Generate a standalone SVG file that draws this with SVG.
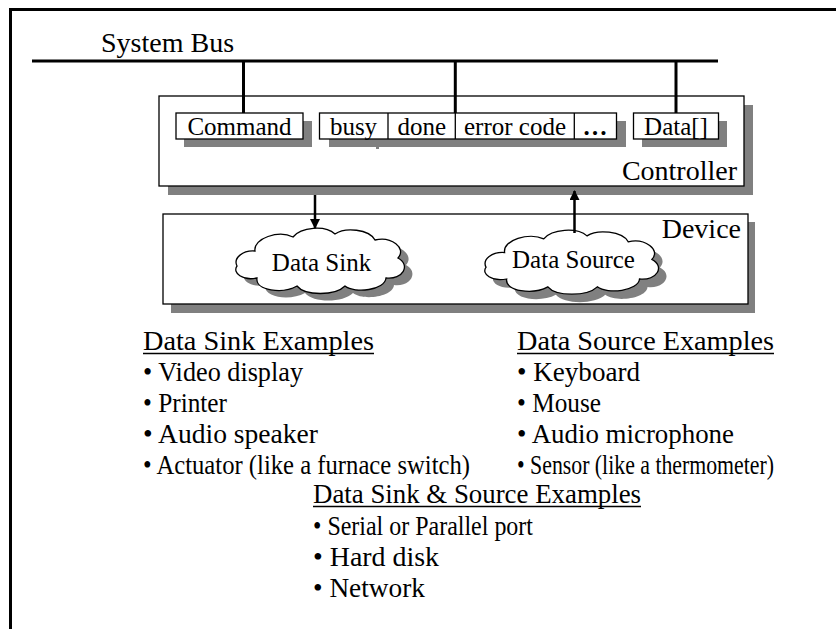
<svg xmlns="http://www.w3.org/2000/svg" width="836" height="629" viewBox="0 0 836 629">
  <defs>
    <style>
      text { font-family: "Liberation Serif", "Times New Roman", serif; fill: #000; }
      .box { fill: #fff; stroke: #000; stroke-width: 1.3; }
      .shadow { fill: #808080; stroke: none; }
      .reg { font-size: 25px; text-anchor: middle; }
      .label { font-size: 28px; }
      .item { font-size: 27px; }
      .cloudtxt { font-size: 25px; text-anchor: middle; }
      .wire { stroke: #000; stroke-width: 3; fill: none; }
      .arrow { stroke: #000; stroke-width: 2.5; fill: none; marker-end: url(#head); }
      .uline { stroke: #000; stroke-width: 1.3; }
    </style>
    <marker id="head" viewBox="0 0 10 10" refX="9" refY="5" markerWidth="4" markerHeight="4" markerUnits="strokeWidth" orient="auto">
      <path d="M0,0 L10,5 L0,10 Z" fill="#000"/>
    </marker>
    <!-- cloud outline in a 172 x 63 local box -->
    <path id="cloud" d="M2,38 C-2,30 8,22 20,23 C18,10 44,2 58,9 C66,-1 90,-3 100,6 C110,-1 134,1 140,12 C156,8 172,20 163,30 C176,37 168,52 151,50 C150,62 120,66 110,58 C100,68 70,68 62,58 C48,66 20,63 22,50 C8,53 -3,45 2,38 Z"/>
  </defs>

  <rect width="836" height="629" fill="#fff"/>

  <!-- page frame (left and top edges) -->
  <path d="M10.5,629 V9.5 H836" fill="none" stroke="#000" stroke-width="3"/>

  <!-- system bus -->
  <g id="bus">
    <text class="label" x="101" y="52">System Bus</text>
    <line class="wire" x1="32" y1="61" x2="718" y2="61"/>
  </g>

  <!-- controller with its registers -->
  <g id="controller">
    <rect class="shadow" x="168" y="105" width="585" height="90"/>
    <rect class="box" x="159" y="96" width="585" height="90"/>
    <text class="label" x="737" y="180" text-anchor="end">Controller</text>
  </g>

  <g id="reg-command">
    <rect class="shadow" x="184" y="121" width="128" height="26"/>
    <rect class="box" x="176" y="113" width="127" height="26"/>
    <text class="reg" x="239.5" y="135">Command</text>
  </g>

  <g id="reg-status">
    <rect class="shadow" x="329" y="121" width="297" height="26"/>
    <rect class="shadow" x="376" y="146" width="3" height="3"/>
    <rect class="box" x="319.5" y="113" width="297" height="26"/>
    <line class="uline" x1="388" y1="113" x2="388" y2="139"/>
    <line class="uline" x1="455.3" y1="113" x2="455.3" y2="139"/>
    <line class="uline" x1="574.3" y1="113" x2="574.3" y2="139"/>
    <text class="reg" x="353.5" y="135">busy</text>
    <text class="reg" x="421.7" y="135">done</text>
    <text class="reg" x="515" y="135">error code</text>
    <text class="reg" x="595" y="135" font-weight="bold">…</text>
  </g>

  <g id="reg-data">
    <rect class="shadow" x="642" y="121" width="85" height="26"/>
    <rect class="box" x="633.5" y="113" width="85" height="26"/>
    <text class="reg" x="676" y="135">Data[]</text>
  </g>

  <!-- device with its sink and source -->
  <g id="device">
    <rect class="shadow" x="171" y="222" width="584" height="91"/>
    <rect class="box" x="163" y="214" width="585" height="90"/>
    <text class="label" x="741" y="238" text-anchor="end">Device</text>
  </g>

  <g id="data-sink">
    <use href="#cloud" class="shadow" transform="translate(243,235)"/>
    <use href="#cloud" class="box" transform="translate(235,228)"/>
    <text class="cloudtxt" x="321.5" y="271">Data Sink</text>
  </g>

  <g id="data-source">
    <use href="#cloud" class="shadow" transform="translate(492,238) scale(1.03,0.98)"/>
    <use href="#cloud" class="box" transform="translate(484,230) scale(1.03,0.98)"/>
    <text class="cloudtxt" x="573.5" y="268">Data Source</text>
  </g>

  <!-- connectors -->
  <g id="connectors">
    <line class="wire" x1="243.5" y1="61" x2="243.5" y2="113" stroke-width="2.5"/>
    <line class="wire" x1="455.3" y1="61" x2="455.3" y2="113" stroke-width="2.5"/>
    <line class="wire" x1="676" y1="61" x2="676" y2="113" stroke-width="2.5"/>
    <line class="arrow" x1="315" y1="195" x2="315" y2="228"/>
    <line class="arrow" x1="574.5" y1="233" x2="574.5" y2="191"/>
  </g>

  <!-- example lists -->
  <g id="sink-examples">
    <text class="label" x="143" y="350" textLength="231" lengthAdjust="spacingAndGlyphs">Data Sink Examples</text>
    <line class="uline" x1="143" y1="353.5" x2="374" y2="353.5"/>
    <text class="item" x="143" y="381" textLength="160" lengthAdjust="spacingAndGlyphs">• Video display</text>
    <text class="item" x="143" y="412" textLength="84" lengthAdjust="spacingAndGlyphs">• Printer</text>
    <text class="item" x="143" y="443" textLength="175" lengthAdjust="spacingAndGlyphs">• Audio speaker</text>
    <text class="item" x="143" y="474" textLength="327" lengthAdjust="spacingAndGlyphs">• Actuator (like a furnace switch)</text>
  </g>

  <g id="source-examples">
    <text class="label" x="517" y="350" textLength="257" lengthAdjust="spacingAndGlyphs">Data Source Examples</text>
    <line class="uline" x1="517" y1="353.5" x2="774" y2="353.5"/>
    <text class="item" x="517" y="381" textLength="123" lengthAdjust="spacingAndGlyphs">• Keyboard</text>
    <text class="item" x="517" y="412" textLength="84" lengthAdjust="spacingAndGlyphs">• Mouse</text>
    <text class="item" x="517" y="443" textLength="217" lengthAdjust="spacingAndGlyphs">• Audio microphone</text>
    <text class="item" x="517" y="474" textLength="257" lengthAdjust="spacingAndGlyphs">• Sensor (like a thermometer)</text>
  </g>

  <g id="sink-source-examples">
    <text class="label" x="313" y="503" textLength="328" lengthAdjust="spacingAndGlyphs">Data Sink &amp; Source Examples</text>
    <line class="uline" x1="313" y1="506.5" x2="641" y2="506.5"/>
    <text class="item" x="313" y="535" textLength="220" lengthAdjust="spacingAndGlyphs">• Serial or Parallel port</text>
    <text class="item" x="313" y="566" textLength="126" lengthAdjust="spacingAndGlyphs">• Hard disk</text>
    <text class="item" x="313" y="597" textLength="112" lengthAdjust="spacingAndGlyphs">• Network</text>
  </g>
</svg>
